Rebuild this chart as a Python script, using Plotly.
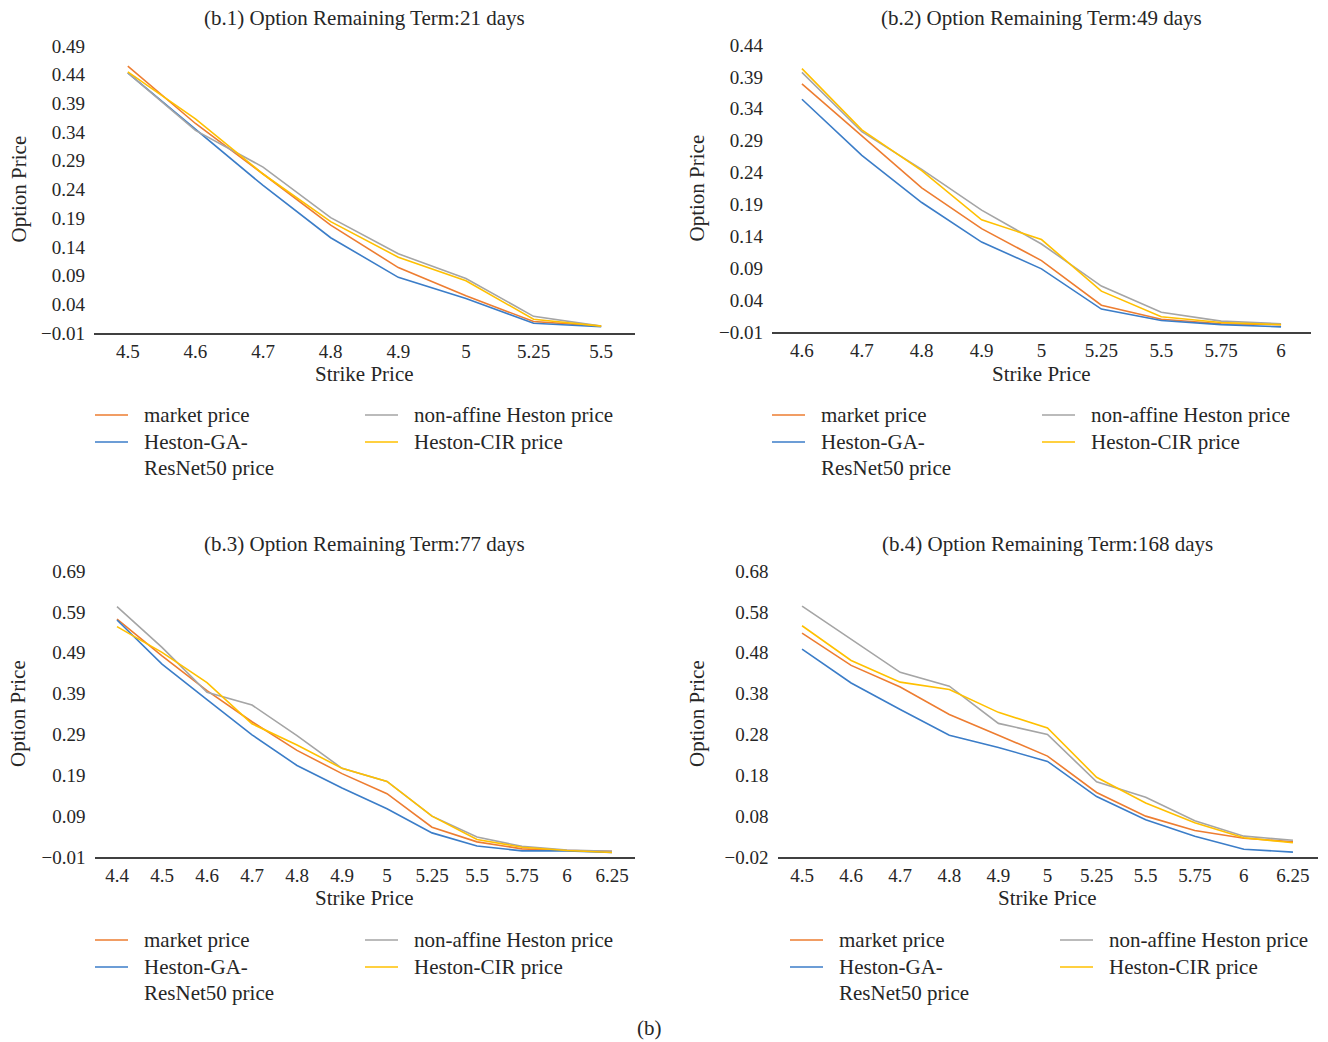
import plotly.graph_objects as go

W, H = 1328, 1042

# ---- data -------------------------------------------------------------
series_names = ["market price", "Heston-GA-ResNet50 price",
                "non-affine Heston price", "Heston-CIR price"]
series_colors = ["#ED7D31", "#3B7DC8", "#A5A5A5", "#FFC000"]

titles = ["(b.1) Option Remaining Term:21 days",
          "(b.2) Option Remaining Term:49 days",
          "(b.3) Option Remaining Term:77 days",
          "(b.4) Option Remaining Term:168 days"]

strikes_1 = ["4.5", "4.6", "4.7", "4.8", "4.9", "5", "5.25", "5.5"]
market_1 = [0.455, 0.355, 0.267, 0.178, 0.104, 0.055, 0.010, 0.002]
ga_1 = [0.443, 0.345, 0.247, 0.156, 0.087, 0.050, 0.007, 0.001]
nonaffine_1 = [0.443, 0.343, 0.279, 0.191, 0.128, 0.085, 0.019, 0.002]
cir_1 = [0.445, 0.363, 0.267, 0.184, 0.122, 0.081, 0.014, 0.002]

strikes_2 = ["4.6", "4.7", "4.8", "4.9", "5", "5.25", "5.5", "5.75", "6"]
market_2 = [0.379, 0.297, 0.216, 0.152, 0.102, 0.032, 0.010, 0.003, 0.0015]
ga_2 = [0.355, 0.267, 0.193, 0.131, 0.089, 0.026, 0.008, 0.0015, -0.002]
nonaffine_2 = [0.397, 0.304, 0.245, 0.181, 0.128, 0.062, 0.021, 0.007, 0.003]
cir_2 = [0.403, 0.307, 0.243, 0.166, 0.135, 0.054, 0.014, 0.005, 0.0015]

strikes_3 = ["4.4", "4.5", "4.6", "4.7", "4.8", "4.9", "5", "5.25",
             "5.5", "5.75", "6", "6.25"]
market_3 = [0.572, 0.482, 0.397, 0.321, 0.251, 0.194, 0.145, 0.063,
            0.027, 0.010, 0.006, 0.004]
ga_3 = [0.570, 0.462, 0.375, 0.289, 0.214, 0.159, 0.108, 0.049,
        0.017, 0.005, 0.005, 0.001]
nonaffine_3 = [0.603, 0.503, 0.393, 0.362, 0.287, 0.207, 0.175, 0.090,
               0.039, 0.016, 0.007, 0.004]
cir_3 = [0.554, 0.491, 0.417, 0.316, 0.264, 0.207, 0.175, 0.090,
         0.033, 0.014, 0.006, 0.001]

strikes_4 = ["4.5", "4.6", "4.7", "4.8", "4.9", "5", "5.25", "5.5",
             "5.75", "6", "6.25"]
market_4 = [0.528, 0.449, 0.396, 0.329, 0.278, 0.227, 0.138, 0.080,
            0.045, 0.026, 0.017]
ga_4 = [0.489, 0.406, 0.341, 0.278, 0.248, 0.214, 0.128, 0.071,
        0.031, -0.001, -0.008]
nonaffine_4 = [0.594, 0.513, 0.432, 0.398, 0.307, 0.280, 0.164, 0.126,
               0.069, 0.031, 0.021]
cir_4 = [0.546, 0.461, 0.408, 0.390, 0.334, 0.296, 0.175, 0.112,
         0.064, 0.027, 0.015]

ytick_1 = [-0.01, 0.04, 0.09, 0.14, 0.19, 0.24, 0.29, 0.34, 0.39, 0.44, 0.49]
ytick_2 = [-0.01, 0.04, 0.09, 0.14, 0.19, 0.24, 0.29, 0.34, 0.39, 0.44]
ytick_3 = [-0.01, 0.09, 0.19, 0.29, 0.39, 0.49, 0.59, 0.69]
ytick_4 = [-0.02, 0.08, 0.18, 0.28, 0.38, 0.48, 0.58, 0.68]

panels = [
    (strikes_1, [market_1, ga_1, nonaffine_1, cir_1], ytick_1),
    (strikes_2, [market_2, ga_2, nonaffine_2, cir_2], ytick_2),
    (strikes_3, [market_3, ga_3, nonaffine_3, cir_3], ytick_3),
    (strikes_4, [market_4, ga_4, nonaffine_4, cir_4], ytick_4),
]

# ---- layout geometry (pixels) -----------------------------------------
# (left, right, bottom, top) of each plotting area
boxes = [(94, 635, 333, 46), (772, 1311, 332, 45),
         (94.5, 634.5, 857, 571), (777.5, 1317.5, 857, 571)]
legend_left = [95, 772, 95, 790]
legend_top = [415, 415, 940, 940]
ytitle_x = [18, 697, 18, 697]
xtitle_y = [374, 374, 898, 898]
title_y = [18, 18, 544, 544]

FONT = "Liberation Serif"
TXT = "#262626"
FS_NUM = 19     # tick numbers
FS_TXT = 21     # titles, axis titles, legend


def px(x):
    return x / W


def py(y):
    return 1 - y / H


def fmt(v):
    s = f"{abs(v):.2f}"
    return ("\u2212" + s) if v < 0 else s


fig = go.Figure()
layout = {}
annotations = []
shapes = []

for i, ((cats, vals, yticks), (l, r, b, t)) in enumerate(zip(panels, boxes)):
    n = i + 1
    xa = "xaxis" if n == 1 else f"xaxis{n}"
    ya = "yaxis" if n == 1 else f"yaxis{n}"
    xr = "x" if n == 1 else f"x{n}"
    yr = "y" if n == 1 else f"y{n}"

    for name, color, v in zip(series_names, series_colors, vals):
        fig.add_trace(go.Scatter(
            x=cats, y=v, mode="lines", name=name, showlegend=False,
            line=dict(color=color, width=1.6), xaxis=xr, yaxis=yr))

    layout[xa] = dict(
        domain=[px(l), px(r)], anchor=yr, type="category",
        range=[-0.5, len(cats) - 0.5], showgrid=False, zeroline=False,
        showline=True, linecolor="#404040", linewidth=1.5,
        ticks="", ticklabelstandoff=0, automargin=False,
        tickfont=dict(family=FONT, size=FS_NUM, color=TXT))
    layout[ya] = dict(
        domain=[py(b), py(t)], anchor=xr,
        range=[yticks[0], yticks[-1]], showgrid=False, zeroline=False,
        showline=False, ticks="", tickvals=yticks, automargin=False,
        ticktext=[fmt(v) for v in yticks], ticklabelstandoff=8,
        tickfont=dict(family=FONT, size=FS_NUM, color=TXT))

    cx = (l + r) / 2
    annotations.append(dict(
        text=titles[i], x=px(cx), y=py(title_y[i]), xref="paper", yref="paper",
        xanchor="center", yanchor="middle", showarrow=False,
        font=dict(family=FONT, size=FS_TXT, color=TXT)))
    annotations.append(dict(
        text="Strike Price", x=px(cx), y=py(xtitle_y[i]), xref="paper",
        yref="paper", xanchor="center", yanchor="middle", showarrow=False,
        font=dict(family=FONT, size=FS_TXT, color=TXT)))
    annotations.append(dict(
        text="Option Price", x=px(ytitle_x[i]), y=py((b + t) / 2),
        xref="paper", yref="paper", xanchor="center", yanchor="middle",
        textangle=-90, showarrow=False,
        font=dict(family=FONT, size=FS_TXT, color=TXT)))

    # legend: two columns, series drawn column-wise
    lx0 = legend_left[i]
    ly0 = legend_top[i]
    slots = [(0, 0), (0, 1), (1, 0), (1, 1)]
    for (col, row), name, color in zip(slots, series_names, series_colors):
        x0 = lx0 + col * 270
        y0 = ly0 + row * 27
        shapes.append(dict(type="line", xref="paper", yref="paper",
                           x0=px(x0), x1=px(x0 + 33), y0=py(y0), y1=py(y0),
                           line=dict(color=color, width=1.6)))
        lines = ["Heston-GA-", "ResNet50 price"] if name.startswith("Heston-GA") else [name]
        for k, part in enumerate(lines):
            annotations.append(dict(
                text=part, x=px(x0 + 47), y=py(y0 + k * 26), xref="paper",
                yref="paper", xanchor="left", yanchor="middle",
                showarrow=False, font=dict(family=FONT, size=FS_TXT, color=TXT)))

annotations.append(dict(
    text="(b)", x=px(649), y=py(1028), xref="paper", yref="paper",
    xanchor="center", yanchor="middle", showarrow=False,
    font=dict(family=FONT, size=FS_TXT, color=TXT)))

fig.update_layout(
    width=W, height=H,
    margin=dict(l=0, r=0, t=0, b=0, pad=0, autoexpand=False),
    paper_bgcolor="white", plot_bgcolor="white",
    font=dict(family=FONT, size=FS_NUM, color=TXT),
    annotations=annotations, shapes=shapes, showlegend=False, **layout)

fig.write_html("out.html")
